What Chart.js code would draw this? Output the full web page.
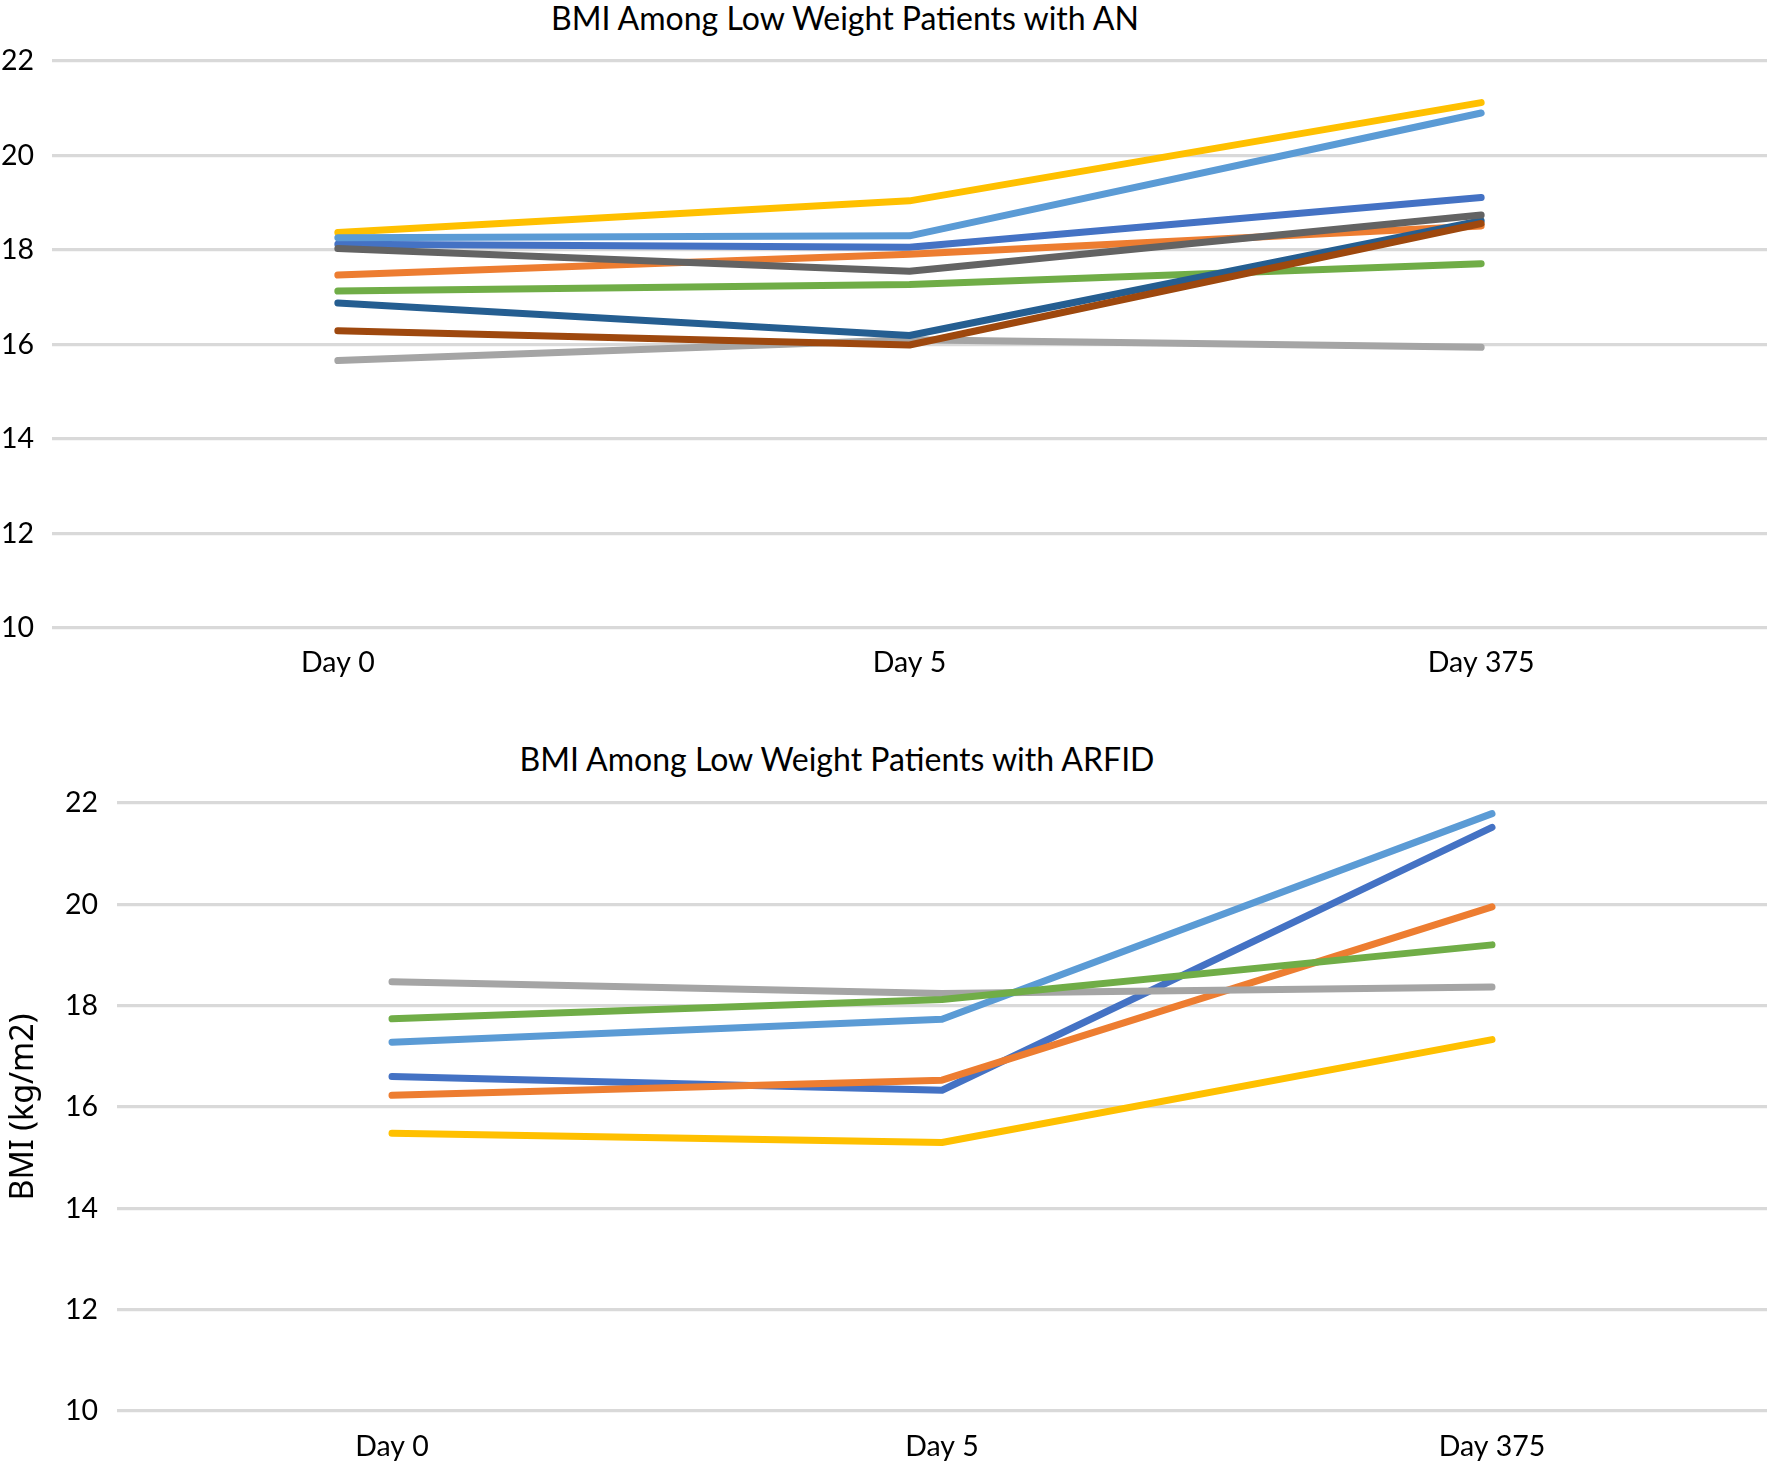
<!DOCTYPE html>
<html>
<head>
<meta charset="utf-8">
<script src="https://cdn.jsdelivr.net/npm/chart.js@4.4.1/dist/chart.umd.min.js"></script>
<style>
  html, body { margin: 0; padding: 0; background: #fff; }
  body { width: 1776px; height: 1464px; position: relative; overflow: hidden; }
  .panel { position: absolute; left: 0; width: 1776px; }
  .ttl { position: absolute; white-space: nowrap; color: #000; transform: translateX(-50%); font-family: Lato, sans-serif; line-height: 1; }
</style>
</head>
<body>
<div class="ttl" id="t1"></div>
<div class="ttl" id="t2"></div>
<div class="panel" style="top:0;height:720px;"><canvas id="c1" width="1776" height="720"></canvas></div>
<div class="panel" style="top:720px;height:744px;"><canvas id="c2" width="1776" height="744"></canvas></div>
<script>
// ---- data ----
const categories = ['Day 0', 'Day 5', 'Day 375'];
const titleAN = 'BMI Among Low Weight Patients with AN';
const titleARFID = 'BMI Among Low Weight Patients with ARFID';
const yAxisTitle = 'BMI (kg/m2)';
const yTickMin = 10;
const yTickMax = 22;
const yTickStep = 2;

// AN patients
const anBlue      = [18.12, 18.06, 19.11];
const anOrange    = [17.47, 17.91, 18.51];
const anGray      = [15.66, 16.10, 15.94];
const anYellow    = [18.37, 19.04, 21.12];
const anLightBlue = [18.26, 18.30, 20.90];
const anGreen     = [17.13, 17.27, 17.71];
const anDarkBlue  = [16.88, 16.19, 18.62];
const anBrown     = [16.29, 15.99, 18.56];
const anDarkGray  = [18.03, 17.55, 18.74];

// ARFID patients
const arBlue      = [16.60, 16.33, 21.52];
const arOrange    = [16.23, 16.53, 19.95];
const arGray      = [18.47, 18.24, 18.37];
const arYellow    = [15.48, 15.30, 17.33];
const arLightBlue = [17.28, 17.73, 21.79];
const arGreen     = [17.74, 18.12, 19.20];

// ---- styling ----
const C = {
  blue: '#4472C4', orange: '#ED7D31', gray: '#A5A5A5', yellow: '#FFC000',
  lightBlue: '#5B9BD5', green: '#70AD47', darkBlue: '#255E91', brown: '#9E480E', darkGray: '#636363'
};
const FONT = 'Lato, sans-serif';
const TICK_SIZE = 28.5;

function fitSize(text, family, targetWidth) {
  const cv = document.createElement('canvas');
  const ctx = cv.getContext('2d');
  ctx.font = '100px ' + family;
  return 100 * targetWidth / ctx.measureText(text).width;
}

const titleSize = fitSize(titleAN, FONT, 592);
const t1 = document.getElementById('t1');
t1.textContent = titleAN;
t1.style.fontSize = titleSize + 'px';
t1.style.left = '845px';
t1.style.top = (18 - titleSize * 0.5) + 'px';
const t2 = document.getElementById('t2');
t2.textContent = titleARFID;
t2.style.fontSize = titleSize + 'px';
t2.style.left = '837px';
t2.style.top = (759 - titleSize * 0.5) + 'px';

const yTitleSize = fitSize(yAxisTitle, '"Noto Sans", sans-serif', 187);

function makeDatasets(list) {
  const n = list.length;
  return list.map((s, i) => ({
    label: s[0],
    data: s[1],
    borderColor: s[2],
    backgroundColor: s[2],
    borderWidth: 7,
    borderCapStyle: 'round',
    borderJoinStyle: 'round',
    pointRadius: 0,
    pointHoverRadius: 0,
    tension: 0,
    fill: false,
    order: n - i
  }));
}

function makeChart(id, datasets, opts) {
  return new Chart(document.getElementById(id), {
    type: 'line',
    data: { labels: categories, datasets: datasets },
    options: {
      responsive: false,
      animation: false,
      devicePixelRatio: 1,
      layout: { padding: { top: opts.padTop, right: opts.padRight, bottom: 0, left: 0 } },
      plugins: { legend: { display: false }, title: { display: false }, tooltip: { enabled: false } },
      scales: {
        x: {
          type: 'category',
          offset: true,
          grid: { display: false, drawTicks: false },
          border: { display: false },
          ticks: { color: '#000', font: { family: FONT, size: TICK_SIZE }, padding: opts.xPad, maxRotation: 0 },
          afterFit: (s) => { s.height = opts.xHeight; }
        },
        y: {
          min: yTickMin, max: yTickMax,
          grid: { color: '#D9D9D9', lineWidth: 3.2, drawTicks: false },
          border: { display: false },
          ticks: { stepSize: yTickStep, color: '#000', font: { family: FONT, size: TICK_SIZE }, padding: opts.yPad },
          title: opts.yTitle ? {
            display: true, text: yAxisTitle, color: '#000',
            font: { family: '"Noto Sans", sans-serif', size: yTitleSize },
            padding: { top: 4, bottom: 0 }
          } : { display: false },
          afterFit: (s) => { s.width = opts.yWidth; }
        }
      }
    }
  });
}

makeChart('c1', makeDatasets([
  ['Blue', anBlue, C.blue], ['Orange', anOrange, C.orange], ['Gray', anGray, C.gray],
  ['Yellow', anYellow, C.yellow], ['Light blue', anLightBlue, C.lightBlue], ['Green', anGreen, C.green],
  ['Dark blue', anDarkBlue, C.darkBlue], ['Brown', anBrown, C.brown], ['Dark gray', anDarkGray, C.darkGray]
]), { padTop: 61, padRight: 9, xHeight: 92, xPad: 18, yPad: 18, yWidth: 52, yTitle: false });

makeChart('c2', makeDatasets([
  ['Blue', arBlue, C.blue], ['Orange', arOrange, C.orange], ['Gray', arGray, C.gray],
  ['Yellow', arYellow, C.yellow], ['Light blue', arLightBlue, C.lightBlue], ['Green', arGreen, C.green]
]), { padTop: 83, padRight: 9, xHeight: 53, xPad: 19, yPad: 19, yWidth: 117, yTitle: true });
</script>
</body>
</html>
